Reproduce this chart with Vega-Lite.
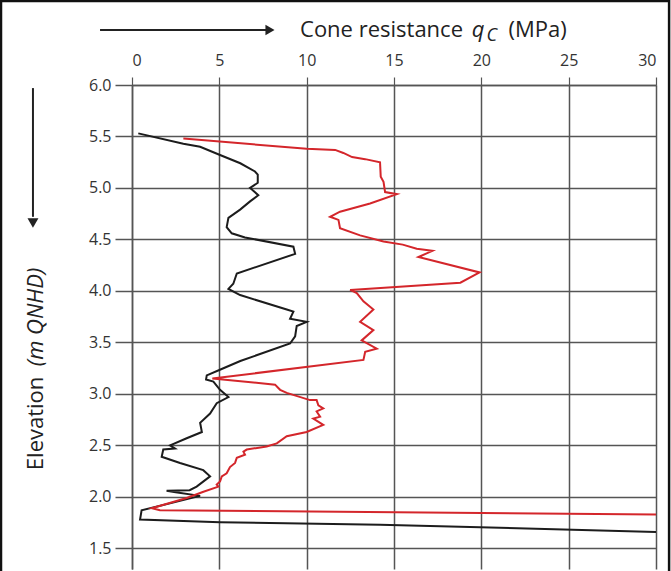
{
  "$schema": "https://vega.github.io/schema/vega-lite/v6.json",
  "autosize": {"type": "none"},
  "width": 524,
  "height": 484,
  "padding": {"left": 132, "top": 85, "right": 15, "bottom": 2},
  "background": "white",
  "config": {"view": {"stroke": null}, "font": "Open Sans"},
  "datasets": {
    "cpt": [
      {"s":"A","i":0,"q":0.36,"z":5.53},{"s":"A","i":1,"q":2.94,"z":5.43},{"s":"A","i":2,"q":3.9,"z":5.40},{"s":"A","i":3,"q":5.04,"z":5.32},{"s":"A","i":4,"q":6.2,"z":5.24},{"s":"A","i":5,"q":7.04,"z":5.16},{"s":"A","i":6,"q":7.2,"z":5.13},{"s":"A","i":7,"q":7.2,"z":5.05},{"s":"A","i":8,"q":6.76,"z":5.0},{"s":"A","i":9,"q":7.23,"z":4.93},{"s":"A","i":10,"q":6.76,"z":4.87},{"s":"A","i":11,"q":6.19,"z":4.79},{"s":"A","i":12,"q":5.52,"z":4.71},{"s":"A","i":13,"q":5.42,"z":4.62},{"s":"A","i":14,"q":5.71,"z":4.56},{"s":"A","i":15,"q":6.47,"z":4.52},{"s":"A","i":16,"q":9.24,"z":4.43},{"s":"A","i":17,"q":9.34,"z":4.36},{"s":"A","i":18,"q":6.0,"z":4.17},{"s":"A","i":19,"q":5.8,"z":4.07},{"s":"A","i":20,"q":5.52,"z":4.02},{"s":"A","i":21,"q":6.19,"z":3.96},{"s":"A","i":22,"q":8.86,"z":3.82},{"s":"A","i":23,"q":9.24,"z":3.80},{"s":"A","i":24,"q":9.05,"z":3.73},{"s":"A","i":25,"q":10.0,"z":3.70},{"s":"A","i":26,"q":9.43,"z":3.66},{"s":"A","i":27,"q":9.34,"z":3.56},{"s":"A","i":28,"q":9.05,"z":3.49},{"s":"A","i":29,"q":6.2,"z":3.32},{"s":"A","i":30,"q":5.1,"z":3.24},{"s":"A","i":31,"q":4.28,"z":3.18},{"s":"A","i":32,"q":4.24,"z":3.14},{"s":"A","i":33,"q":4.66,"z":3.12},{"s":"A","i":34,"q":5.04,"z":3.04},{"s":"A","i":35,"q":5.52,"z":2.97},{"s":"A","i":36,"q":4.85,"z":2.91},{"s":"A","i":37,"q":4.47,"z":2.81},{"s":"A","i":38,"q":3.9,"z":2.72},{"s":"A","i":39,"q":4.0,"z":2.63},{"s":"A","i":40,"q":3.13,"z":2.57},{"s":"A","i":41,"q":2.18,"z":2.50},{"s":"A","i":42,"q":2.46,"z":2.47},{"s":"A","i":43,"q":1.79,"z":2.46},{"s":"A","i":44,"q":1.7,"z":2.39},{"s":"A","i":45,"q":2.75,"z":2.33},{"s":"A","i":46,"q":4.08,"z":2.26},{"s":"A","i":47,"q":4.47,"z":2.20},{"s":"A","i":48,"q":3.7,"z":2.10},{"s":"A","i":49,"q":3.3,"z":2.065},{"s":"A","i":50,"q":1.98,"z":2.06},{"s":"A","i":51,"q":2.5,"z":2.045},{"s":"A","i":52,"q":3.9,"z":2.01},{"s":"A","i":53,"q":0.55,"z":1.87},{"s":"A","i":54,"q":0.46,"z":1.78},{"s":"A","i":55,"q":5.04,"z":1.755},{"s":"A","i":56,"q":14.2,"z":1.73},{"s":"A","i":57,"q":30,"z":1.66},
      {"s":"B","i":0,"q":2.94,"z":5.48},{"s":"B","i":1,"q":10.0,"z":5.38},{"s":"B","i":2,"q":11.63,"z":5.37},{"s":"B","i":3,"q":12.1,"z":5.34},{"s":"B","i":4,"q":12.6,"z":5.30},{"s":"B","i":5,"q":13.35,"z":5.28},{"s":"B","i":6,"q":14.2,"z":5.25},{"s":"B","i":7,"q":14.24,"z":5.11},{"s":"B","i":8,"q":14.4,"z":5.06},{"s":"B","i":9,"q":14.49,"z":4.96},{"s":"B","i":10,"q":15.16,"z":4.94},{"s":"B","i":11,"q":13.63,"z":4.85},{"s":"B","i":12,"q":11.91,"z":4.77},{"s":"B","i":13,"q":11.34,"z":4.72},{"s":"B","i":14,"q":11.82,"z":4.69},{"s":"B","i":15,"q":11.91,"z":4.61},{"s":"B","i":16,"q":13.06,"z":4.54},{"s":"B","i":17,"q":14.4,"z":4.48},{"s":"B","i":18,"q":15.5,"z":4.45},{"s":"B","i":19,"q":16.3,"z":4.41},{"s":"B","i":20,"q":17.2,"z":4.39},{"s":"B","i":21,"q":16.4,"z":4.33},{"s":"B","i":22,"q":19.9,"z":4.18},{"s":"B","i":23,"q":18.8,"z":4.08},{"s":"B","i":24,"q":12.49,"z":4.01},{"s":"B","i":25,"q":12.87,"z":3.98},{"s":"B","i":26,"q":13.25,"z":3.90},{"s":"B","i":27,"q":13.82,"z":3.82},{"s":"B","i":28,"q":13.06,"z":3.70},{"s":"B","i":29,"q":13.82,"z":3.62},{"s":"B","i":30,"q":13.15,"z":3.52},{"s":"B","i":31,"q":14.01,"z":3.44},{"s":"B","i":32,"q":13.35,"z":3.41},{"s":"B","i":33,"q":13.25,"z":3.33},{"s":"B","i":34,"q":4.6,"z":3.15},{"s":"B","i":35,"q":8.19,"z":3.09},{"s":"B","i":36,"q":8.48,"z":3.04},{"s":"B","i":37,"q":8.86,"z":3.01},{"s":"B","i":38,"q":10.19,"z":2.94},{"s":"B","i":39,"q":10.57,"z":2.94},{"s":"B","i":40,"q":10.67,"z":2.89},{"s":"B","i":41,"q":10.95,"z":2.86},{"s":"B","i":42,"q":10.57,"z":2.83},{"s":"B","i":43,"q":10.77,"z":2.78},{"s":"B","i":44,"q":10.38,"z":2.76},{"s":"B","i":45,"q":10.95,"z":2.70},{"s":"B","i":46,"q":10.0,"z":2.63},{"s":"B","i":47,"q":8.86,"z":2.59},{"s":"B","i":48,"q":8.29,"z":2.52},{"s":"B","i":49,"q":7.71,"z":2.49},{"s":"B","i":50,"q":6.57,"z":2.46},{"s":"B","i":51,"q":6.38,"z":2.44},{"s":"B","i":52,"q":6.47,"z":2.41},{"s":"B","i":53,"q":6.0,"z":2.38},{"s":"B","i":54,"q":5.9,"z":2.33},{"s":"B","i":55,"q":5.61,"z":2.29},{"s":"B","i":56,"q":5.42,"z":2.23},{"s":"B","i":57,"q":5.14,"z":2.20},{"s":"B","i":58,"q":5.04,"z":2.15},{"s":"B","i":59,"q":4.85,"z":2.12},{"s":"B","i":60,"q":4.95,"z":2.10},{"s":"B","i":61,"q":4.09,"z":2.05},{"s":"B","i":62,"q":3.13,"z":1.99},{"s":"B","i":63,"q":1.13,"z":1.89},{"s":"B","i":64,"q":1.6,"z":1.87},{"s":"B","i":65,"q":30,"z":1.83}
    ]
  },
  "layer": [
    {
      "data": {"name": "cpt"},
      "mark": {"type": "line", "strokeWidth": 2, "clip": true},
      "encoding": {
        "x": {"field": "q", "type": "quantitative",
          "scale": {"domain": [0, 30], "nice": false, "zero": false},
          "axis": {"orient": "top", "title": null, "values": [0,5,10,15,20,25,30],
            "grid": true, "gridColor": "#555", "gridWidth": 1.5,
            "domain": true, "domainColor": "#555", "domainWidth": 1.5,
            "tickColor": "#555", "tickSize": 8, "tickWidth": 1.2,
            "labelFontSize": 16, "labelColor": "#333", "labelPadding": 9, "labelFont": "Open Sans"}},
        "y": {"field": "z", "type": "quantitative",
          "scale": {"domain": [1.3, 6.0], "nice": false, "zero": false},
          "axis": {"title": null, "values": [1.5,2,2.5,3,3.5,4,4.5,5,5.5,6], "format": ".1f",
            "grid": true, "gridColor": "#555", "gridWidth": 1.5,
            "domain": true, "domainColor": "#555", "domainWidth": 1.5,
            "tickColor": "#555", "tickSize": 17, "tickWidth": 1.5,
            "labelFontSize": 16, "labelColor": "#333", "labelPadding": 4, "labelFont": "Open Sans"}},
        "color": {"field": "s", "type": "nominal", "legend": null,
          "scale": {"domain": ["A", "B"], "range": ["#1c1c1c", "#d4262b"]}},
        "order": {"field": "i", "type": "quantitative"}
      }
    },
    {
      "data": {"values": [{"a": -7.5, "b": 30.75, "t": 6.815, "u": 1.0}]},
      "mark": {"type": "rect", "filled": false, "stroke": "#111", "strokeWidth": 2.5, "clip": false},
      "encoding": {"x": {"field": "a", "type": "quantitative"}, "x2": {"field": "b"}, "y": {"field": "t", "type": "quantitative"}, "y2": {"field": "u"}}
    },
    {
      "data": {"values": [{"a": -1.83, "b": 7.7, "y": 6.535}]},
      "mark": {"type": "rule", "color": "#222", "strokeWidth": 2},
      "encoding": {"x": {"field": "a", "type": "quantitative"}, "x2": {"field": "b"}, "y": {"field": "y", "type": "quantitative"}}
    },
    {
      "data": {"values": [{"x": 7.9, "y": 6.535}]},
      "mark": {"type": "point", "shape": "triangle-right", "filled": true, "color": "#222", "size": 110, "opacity": 1},
      "encoding": {"x": {"field": "x", "type": "quantitative"}, "y": {"field": "y", "type": "quantitative"}}
    },
    {
      "data": {"values": [{"x": -5.67, "a": 5.97, "b": 4.72}]},
      "mark": {"type": "rule", "color": "#222", "strokeWidth": 2},
      "encoding": {"x": {"field": "x", "type": "quantitative"}, "y": {"field": "a", "type": "quantitative"}, "y2": {"field": "b"}}
    },
    {
      "data": {"values": [{"x": -5.67, "y": 4.66}]},
      "mark": {"type": "point", "shape": "triangle-down", "filled": true, "color": "#222", "size": 120, "opacity": 1},
      "encoding": {"x": {"field": "x", "type": "quantitative"}, "y": {"field": "y", "type": "quantitative"}}
    },
    {
      "data": {"values": [{"x": 9.62, "y": 6.466, "t": "Cone resistance"}, {"x": 21.55, "y": 6.466, "t": "(MPa)"}]},
      "mark": {"type": "text", "align": "left", "baseline": "alphabetic", "fontSize": 22, "color": "#222", "font": "Open Sans"},
      "encoding": {"x": {"field": "x", "type": "quantitative"}, "y": {"field": "y", "type": "quantitative"}, "text": {"field": "t"}}
    },
    {
      "data": {"values": [{"x": 19.45, "y": 6.466, "t": "q"}]},
      "mark": {"type": "text", "align": "left", "baseline": "alphabetic", "fontSize": 22, "fontStyle": "italic", "color": "#222", "font": "Open Sans"},
      "encoding": {"x": {"field": "x", "type": "quantitative"}, "y": {"field": "y", "type": "quantitative"}, "text": {"field": "t"}}
    },
    {
      "data": {"values": [{"x": 20.3, "y": 6.43, "t": "C"}]},
      "mark": {"type": "text", "align": "left", "baseline": "alphabetic", "fontSize": 18, "fontStyle": "italic", "color": "#222", "font": "Open Sans"},
      "encoding": {"x": {"field": "x", "type": "quantitative"}, "y": {"field": "y", "type": "quantitative"}, "text": {"field": "t"}}
    },
    {
      "data": {"values": [{"x": -5.1, "y": 2.26, "t": "Elevation"}]},
      "mark": {"type": "text", "align": "left", "baseline": "alphabetic", "angle": 270, "fontSize": 22, "color": "#222", "font": "Open Sans"},
      "encoding": {"x": {"field": "x", "type": "quantitative"}, "y": {"field": "y", "type": "quantitative"}, "text": {"field": "t"}}
    },
    {
      "data": {"values": [{"x": -5.1, "y": 3.27, "t": "(m QNHD)"}]},
      "mark": {"type": "text", "align": "left", "baseline": "alphabetic", "angle": 270, "fontSize": 22, "fontStyle": "italic", "color": "#222", "font": "Open Sans"},
      "encoding": {"x": {"field": "x", "type": "quantitative"}, "y": {"field": "y", "type": "quantitative"}, "text": {"field": "t"}}
    }
  ]
}
